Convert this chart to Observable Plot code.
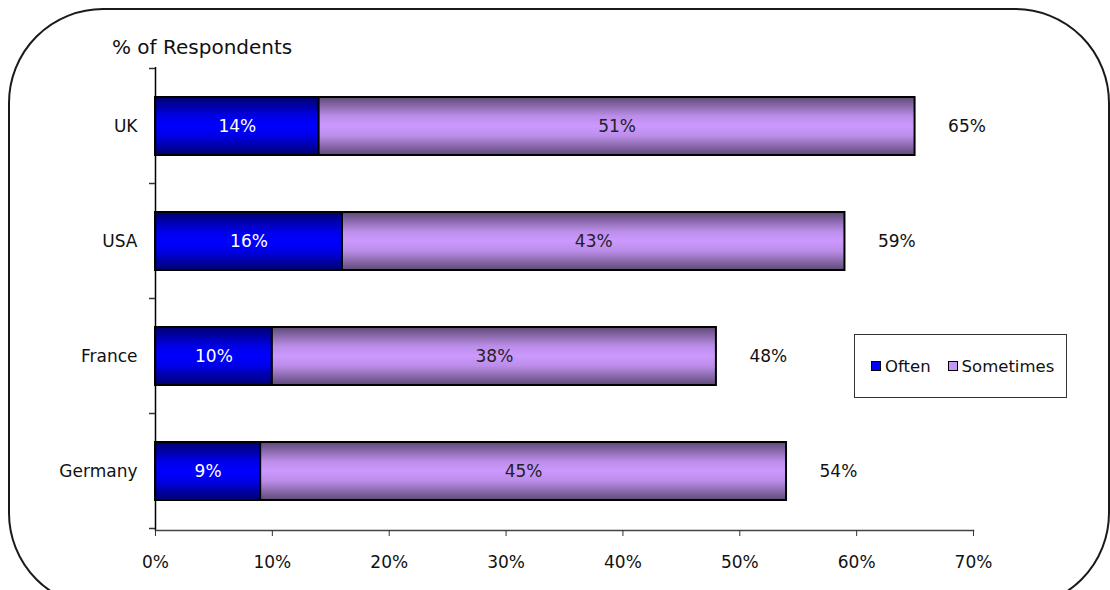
<!DOCTYPE html>
<html>
<head>
<meta charset="utf-8">
<script src="https://cdn.jsdelivr.net/npm/d3@7"></script>
<script src="https://cdn.jsdelivr.net/npm/@observablehq/plot@0.6"></script>
<style>
  html, body { margin: 0; padding: 0; }
  body { width: 1110px; height: 590px; overflow: hidden; position: relative; background: #fff; font-family: "DejaVu Sans", sans-serif; color: #111; }
  #frame { position: absolute; left: 8px; top: 8px; width: 1102px; height: 600px; border: 2px solid #1a1a1a; border-radius: 95px; box-sizing: border-box; }
  #title { position: absolute; left: 112px; top: 35px; font-size: 20px; color: #111; white-space: nowrap; }
  #chart { position: absolute; left: 0; top: 0; }
  #legend { position: absolute; left: 854px; top: 334px; width: 213px; height: 64px; box-sizing: border-box; border: 1.5px solid #333; background: #fff; display: flex; align-items: center; padding-left: 16px; font-size: 16.5px; }
  .sw { display: inline-block; width: 8px; height: 8px; border: 1.5px solid #000; margin-right: 4px; }
  .item { display: inline-flex; align-items: center; margin-right: 17px; white-space: nowrap; }
</style>
</head>
<body>
<div id="frame"></div>
<div id="chart"></div>
<div id="title">% of Respondents</div>
<div id="legend">
  <span class="item"><span class="sw" style="background:#0000ff"></span>Often</span>
  <span class="item"><span class="sw" style="background:#c896fa"></span>Sometimes</span>
</div>
<script>
const categories = ["UK", "USA", "France", "Germany"];
const seriesNames = ["Often", "Sometimes"];
const often = [14, 16, 10, 9];
const sometimes = [51, 43, 38, 45];
const totals = [65, 59, 48, 54];
const xTicks = [0, 10, 20, 30, 40, 50, 60, 70];

const rows = [];
categories.forEach((c, i) => {
  rows.push({country: c, series: "Often", value: often[i]});
  rows.push({country: c, series: "Sometimes", value: sometimes[i]});
});
const totalRows = categories.map((c, i) => ({country: c, total: totals[i]}));

const chart = Plot.plot({
  width: 1110,
  height: 590,
  marginLeft: 155,
  marginRight: 137,
  marginTop: 67,
  marginBottom: 60,
  style: {fontFamily: "DejaVu Sans, sans-serif", fontSize: "17px", color: "#111", background: "transparent", overflow: "visible"},
  x: {domain: [0, 70], ticks: xTicks, tickFormat: d => d + "%"},
  y: {domain: categories, paddingInner: 0.5, paddingOuter: 0.25},
  color: {domain: seriesNames, range: ["url(#gOften)", "url(#gSometimes)"]},
  marks: [
    Plot.barX(rows, Plot.stackX({x: "value", y: "country", fill: "series", stroke: "#000", strokeWidth: 2})),
    Plot.text(rows, Plot.stackX({x: "value", y: "country", text: d => d.value + "%",
      fill: d => d.series === "Often" ? "#ffffff" : "#222222", fontSize: 17,
      fontWeight: d => d.series === "Often" ? 600 : 400})),
    Plot.text(totalRows, {x: "total", y: "country", text: d => d.total + "%", dx: 33, textAnchor: "start", fill: "#111", fontSize: 17}),
    Plot.ruleX([0], {stroke: "#000", strokeWidth: 1.5}),
    Plot.frame({anchor: "bottom", stroke: "#444", strokeWidth: 1.5}),
    Plot.axisX({ticks: xTicks, tickFormat: d => d + "%", tickSize: 6, tickPadding: 19, stroke: "#333", fill: "#111", fontSize: 17, label: null}),
    Plot.axisY({tickSize: 0, tickPadding: 18, fill: "#111", fontSize: 17, label: null})
  ]
});

const svg = d3.select(chart);
const defs = svg.insert("defs", ":first-child");
function grad(id, edge, mid, inner) {
  const g = defs.append("linearGradient").attr("id", id).attr("x1", 0).attr("y1", 0).attr("x2", 0).attr("y2", 1);
  [[0, edge], [0.33, inner], [0.5, mid], [0.67, inner], [1, edge]].forEach(([o, c]) =>
    g.append("stop").attr("offset", o).attr("stop-color", c));
}
grad("gOften", "#00006e", "#0000ff", "#0000e8");
grad("gSometimes", "#5e4a77", "#cc99ff", "#bb8de8");

// category boundary ticks on the y axis
const ys = chart.scale("y");
const xs = chart.scale("x");
const x0 = xs.apply(0);
const bounds = new Set();
categories.forEach(c => {
  const mid = ys.apply(c) + ys.bandwidth / 2;
  bounds.add(mid - ys.step / 2);
  bounds.add(mid + ys.step / 2);
});
const tg = svg.append("g").attr("stroke", "#333").attr("stroke-width", 1.5);
bounds.forEach(b => tg.append("line").attr("x1", x0 - 6).attr("x2", x0).attr("y1", b).attr("y2", b));

document.getElementById("chart").appendChild(chart);
</script>
</body>
</html>
